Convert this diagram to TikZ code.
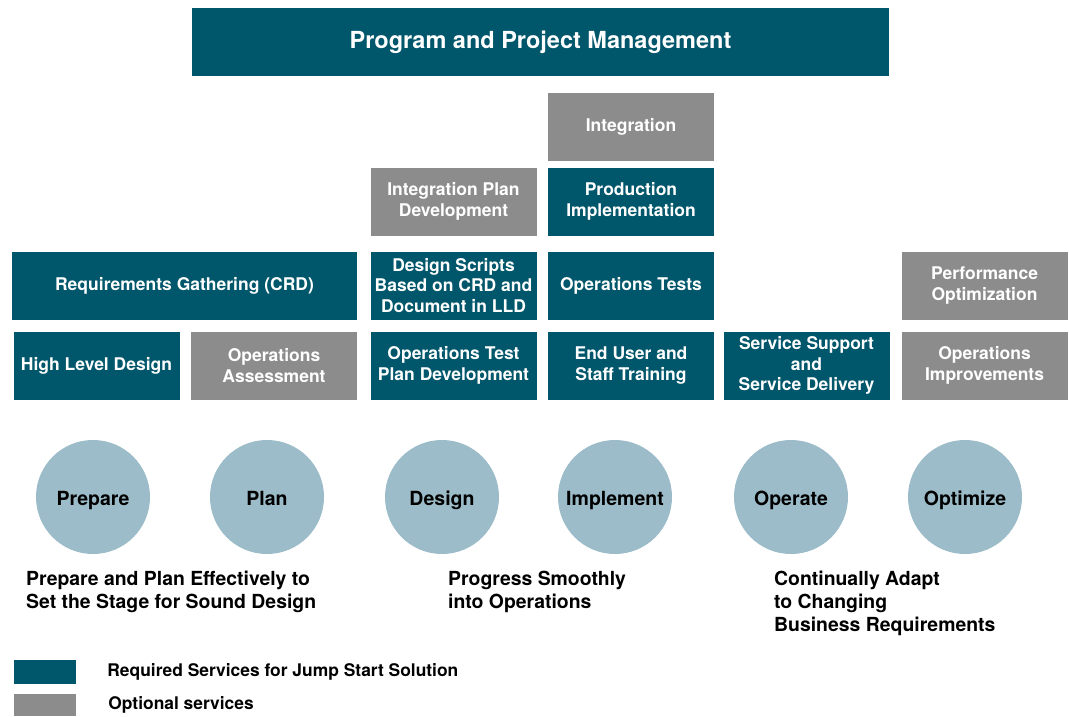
\documentclass[tikz,border=0pt]{standalone}
\usepackage{fontspec}
\setmainfont{TeX Gyre Heros}
\usetikzlibrary{positioning}

\definecolor{reqteal}{HTML}{00566A}
\definecolor{optgray}{HTML}{8C8C8C}
\definecolor{phaseblue}{HTML}{9BBCC8}

\tikzset{
  svc/.style={rectangle,text=white,align=center,inner sep=0pt,
    minimum width=166pt,minimum height=68pt,
    font=\fontsize{17.5}{20.5}\selectfont\bfseries},
  req/.style={svc,fill=reqteal},
  opt/.style={svc,fill=optgray},
  phase/.style={circle,fill=phaseblue,minimum size=114pt,inner sep=0pt,
    text height=18pt,text depth=2pt,
    font=\fontsize{19.5}{22}\selectfont\bfseries},
  goal/.style={anchor=north west,align=left,inner sep=0pt,
    font=\fontsize{19.4}{23}\selectfont\bfseries},
  legend/.style={anchor=west,inner sep=0pt,font=\fontsize{17.4}{20}\selectfont\bfseries}
}

\begin{document}
\begin{tikzpicture}[x=1pt,y=-1pt]

      \fill[white] (0,0) rectangle (1069,716);
      \useasboundingbox (0,0) rectangle (1069,716);

      \node[req,minimum width=697pt,font=\fontsize{23.5}{26}\selectfont\bfseries]
        (pm) at (540.5,42) {Program and Project Management};

      \begin{scope}[every node/.style={}]
        \node[opt] (integ)     at (631,127)     {Integration};
        \node[opt] (ipd)       at (453.5,201.5) {Integration Plan\\Development};
        \node[req] (prodimpl)  at (631,201.5)   {Production\\Implementation};
        \node[req,minimum width=345pt] (reqs) at (184.5,285.5) {Requirements Gathering (CRD)};
        \node[req] (dscripts)  at (453.5,285.5) {Design Scripts\\Based on CRD and\\Document in LLD};
        \node[req] (optests)   at (631,285.5)   {Operations Tests};
        \node[opt] (perfopt)   at (984.5,285.5) {Performance\\Optimization};
        \node[req] (hld)       at (96.5,365.5)  {High Level Design};
        \node[opt] (opsassess) at (274,365.5)   {Operations\\Assessment};
        \node[req] (otpd)      at (453.5,365.5) {Operations Test\\Plan Development};
        \node[req] (eutrain)   at (631,365.5)   {End User and\\Staff Training};
        \node[req] (ssd)       at (806.5,365.5) {Service Support\\and\\Service Delivery};
        \node[opt] (opsimpr)   at (984.5,365.5) {Operations\\Improvements};
      \end{scope}

      \begin{scope}[every node/.style={phase}]
        \node (prepare)   at (93,497)  {Prepare};
        \node (plan)      at (267,497) {Plan};
        \node (design)    at (442,497) {Design};
        \node (implement) at (615,497) {Implement};
        \node (operate)   at (791,497) {Operate};
        \node (optimize)  at (965,497) {Optimize};
      \end{scope}

      \node[goal] (goalprep) at (26,571)  {Prepare and Plan Effectively to\\Set the Stage for Sound Design};
      \node[goal] (goalprog) at (448,571) {Progress Smoothly\\into Operations};
      \node[goal] (goaladpt) at (774,571) {Continually Adapt\\to Changing\\Business Requirements};

      \node[fill=reqteal,minimum width=62pt,minimum height=24pt,inner sep=0pt] (reqkey) at (45,672) {};
      \node[fill=optgray,minimum width=62pt,minimum height=22pt,inner sep=0pt] (optkey) at (45,705) {};
      \node[legend,right=31pt of reqkey] (reqtext) {Required Services for Jump Start Solution};
      \node[legend,right=32pt of optkey] (opttext) {Optional services};

    \end{tikzpicture}
\end{document}
